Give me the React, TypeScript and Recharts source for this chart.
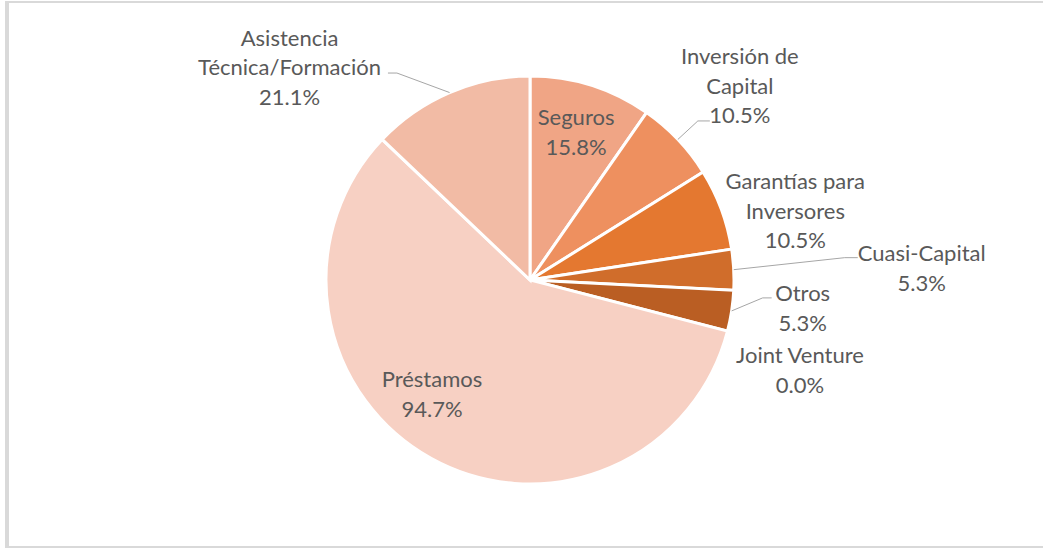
import React from "react";
import { PieChart, Pie, Cell } from "recharts";

// Data (counts out of 19 respondents), in clockwise order from 12 o'clock
const categories = [
  "Seguros",
  "Inversión de Capital",
  "Garantías para Inversores",
  "Cuasi-Capital",
  "Otros",
  "Joint Venture",
  "Préstamos",
  "Asistencia Técnica/Formación",
];
const counts = [3, 2, 2, 1, 1, 0, 18, 4];
const respondents = 19;
// label line breaks as in the original
const labelLines = [
  ["Seguros"],
  ["Inversión de", "Capital"],
  ["Garantías para", "Inversores"],
  ["Cuasi-Capital"],
  ["Otros"],
  ["Joint Venture"],
  ["Préstamos"],
  ["Asistencia", "Técnica/Formación"],
];

const colors = [
  "#F0A585",
  "#EE905F",
  "#E47830",
  "#D06D2B",
  "#BA5E23",
  "#A9501D",
  "#F7D0C3",
  "#F2BBA5",
];

// label placement relative to the slice's outer edge point (style config)
const labelOffsets = [
  { dx: -15, dy: 46 },
  { dx: 62, dy: -54 },
  { dx: 74, dy: 1 },
  { dx: 188, dy: -2 },
  { dx: 71, dy: -3.5 },
  { dx: 72.5, dy: 38.5 },
  { dx: 1, dy: -65 },
  { dx: -160, dy: -26 },
];
// leader lines: elbow and end relative to slice edge point
const leaders: ({ ex: number; ey: number; tx: number; ty: number } | null)[] = [
  null,
  { ex: 20, ey: -18.5, tx: 32, ty: -18.5 },
  null,
  { ex: 111, ey: -12, tx: 124, ty: -12 },
  { ex: 31, ey: -13, tx: 40, ty: -13 },
  null,
  null,
  { ex: -52.6, ey: -19.5, tx: -61.6, ty: -19.5 },
];

const data = categories.map((name, i) => ({ name, value: counts[i] }));

const RAD = Math.PI / 180;
const LINE_H = 29.5;
const FONT = "Lato, 'Open Sans', sans-serif";

const renderLabel = (props: any) => {
  const { cx, cy, midAngle, outerRadius, index } = props;
  const px = cx + outerRadius * Math.cos(-midAngle * RAD);
  const py = cy + outerRadius * Math.sin(-midAngle * RAD);
  const off = labelOffsets[index];
  const bx = px + off.dx;
  const by = py + off.dy;
  const lines = [
    ...labelLines[index],
    ((counts[index] / respondents) * 100).toFixed(1) + "%",
  ];
  const n = lines.length;
  const ld = leaders[index];
  return (
    <g key={`lbl-${index}`}>
      {ld && (
        <polyline
          points={`${px},${py} ${px + ld.ex},${py + ld.ey} ${px + ld.tx},${py + ld.ty}`}
          fill="none"
          stroke="#A6A6A6"
          strokeWidth={1}
        />
      )}
      <text
        x={bx}
        y={by}
        textAnchor="middle"
        fill="#595959"
        fontFamily={FONT}
        fontSize={22}
      >
        {lines.map((l, i) => (
          <tspan
            key={i}
            x={bx}
            y={by + (i - (n - 1) / 2) * LINE_H}
            dominantBaseline="central"
          >
            {l}
          </tspan>
        ))}
      </text>
    </g>
  );
};

export default function App() {
  return (
    <div
      style={{
        position: "absolute",
        left: 0,
        top: 0,
        width: 1043,
        height: 548,
        background: "#ffffff",
        overflow: "hidden",
      }}
    >
      <div
        style={{
          position: "absolute",
          left: 5,
          top: 1,
          width: 1040,
          height: 543,
          borderLeft: "4px solid #D9D9D9",
          borderTop: "2px solid #D9D9D9",
          borderBottom: "2px solid #D9D9D9",
        }}
      />
      <div style={{ position: "absolute", left: 0, top: 0 }}>
        <PieChart
          width={1043}
          height={548}
          margin={{ top: 0, right: 0, bottom: 0, left: 0 }}
        >
          <Pie
            data={data}
            dataKey="value"
            nameKey="name"
            cx={530}
            cy={280}
            outerRadius={204}
            startAngle={90}
            endAngle={-270}
            stroke="#FFFFFF"
            strokeWidth={3}
            label={renderLabel}
            labelLine={false}
            isAnimationActive={false}
          >
            {data.map((d, i) => (
              <Cell key={d.name} fill={colors[i]} />
            ))}
          </Pie>
        </PieChart>
      </div>
    </div>
  );
}
